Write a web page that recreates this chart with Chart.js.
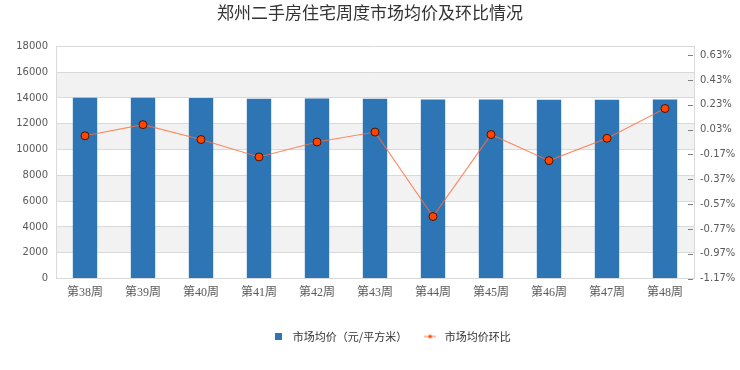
<!DOCTYPE html>
<html lang="zh-CN">
<head>
  <meta charset="UTF-8" />
  <title>郑州二手房住宅周度市场均价及环比情况</title>
  <script src="https://cdn.jsdelivr.net/npm/chart.js@4.4.0/dist/chart.umd.min.js"></script>
  <style>
    html, body { margin: 0; padding: 0; background: #fff; }
    canvas { display: block; }
  </style>
</head>
<body>
  <canvas id="weekChart" width="740" height="370"></canvas>

  <script>
    // 周次
    const weeks = ['第38周', '第39周', '第40周', '第41周', '第42周', '第43周',
                   '第44周', '第45周', '第46周', '第47周', '第48周'];
    // 市场均价（元/平方米）
    const avgPrice = [14010, 14020, 14000, 13950, 13960, 13940,
                      13880, 13880, 13860, 13870, 13880];
    // 市场均价环比（%）
    const momChange = [-0.02, 0.07, -0.05, -0.19, -0.07, 0.01,
                       -0.67, -0.01, -0.22, -0.04, 0.20];
    // 右轴刻度（%）
    const rightTicks = [-1.17, -0.97, -0.77, -0.57, -0.37, -0.17, 0.03, 0.23, 0.43, 0.63];

    const textColor = '#595959';
    const gridColor = '#d9d9d9';

    // 图例小图标
    const squareIcon = document.createElement('canvas');
    squareIcon.width = 7; squareIcon.height = 7;
    squareIcon.getContext('2d').fillStyle = '#2e75b6';
    squareIcon.getContext('2d').fillRect(0, 0, 7, 7);

    const lineIcon = document.createElement('canvas');
    lineIcon.width = 12; lineIcon.height = 6;
    (function () {
      const c = lineIcon.getContext('2d');
      c.strokeStyle = '#ff7a50';
      c.lineWidth = 1;
      c.beginPath(); c.moveTo(0, 3); c.lineTo(12, 3); c.stroke();
      c.fillStyle = '#ff4500';
      c.beginPath(); c.arc(6, 3, 1.8, 0, Math.PI * 2); c.fill();
    })();

    // 灰白相间的背景条
    const bandPlugin = {
      id: 'bands',
      beforeDraw(chart) {
        const { ctx, chartArea } = chart;
        const y = chart.scales.y;
        ctx.save();
        ctx.fillStyle = '#f2f2f2';
        y.ticks.forEach((t, i) => {
          if (i % 2 === 1 && i < y.ticks.length - 1) {
            const top = y.getPixelForValue(y.ticks[i + 1].value);
            const bottom = y.getPixelForValue(t.value);
            ctx.fillRect(chartArea.left, top, chartArea.right - chartArea.left, bottom - top);
          }
        });
        ctx.restore();
      }
    };

    // 右轴内侧的小刻度
    const innerTicks = {
      id: 'innerTicks',
      afterDatasetsDraw(chart) {
        const { ctx, chartArea } = chart;
        const s = chart.scales.y1;
        ctx.save();
        ctx.strokeStyle = '#7f7f7f';
        ctx.lineWidth = 1;
        s.ticks.forEach(t => {
          const py = Math.round(s.getPixelForValue(t.value)) + 0.5;
          const len = t.major ? 5 : 3;
          ctx.beginPath();
          ctx.moveTo(chartArea.right - 1 - len, py);
          ctx.lineTo(chartArea.right - 1, py);
          ctx.stroke();
        });
        ctx.restore();
      }
    };

    // 图例整体稍偏右
    const legendShift = {
      id: 'legendShift',
      afterLayout(chart) {
        chart.legend.left += 20;
        chart.legend.right += 20;
      }
    };

    Chart.defaults.font.family = '"DejaVu Sans", "Noto Sans CJK SC", sans-serif';
    Chart.defaults.color = textColor;

    new Chart(document.getElementById('weekChart'), {
      data: {
        labels: weeks,
        datasets: [
          {
            type: 'line',
            label: '市场均价环比',
            data: momChange,
            yAxisID: 'y1',
            order: 0,
            borderColor: 'rgba(255, 110, 60, 0.8)',
            borderWidth: 1.1,
            pointRadius: 4,
            pointBackgroundColor: '#ff4500',
            pointBorderColor: '#4a1400',
            pointBorderWidth: 1,
            tension: 0
          },
          {
            type: 'bar',
            label: '市场均价（元/平方米）',
            data: avgPrice,
            yAxisID: 'y',
            order: 1,
            backgroundColor: '#2e75b6',
            borderWidth: 0,
            barPercentage: 0.42,
            categoryPercentage: 1
          }
        ]
      },
      options: {
        responsive: false,
        animation: false,
        layout: { padding: { left: 0, right: 0, top: 0, bottom: 18 } },
        scales: {
          x: {
            grid: { display: false, drawTicks: false },
            border: { color: gridColor },
            ticks: {
              color: textColor,
              padding: 7,
              maxRotation: 0,
              font: { family: '"Liberation Serif", "Noto Sans CJK SC", serif', size: 12 }
            },
            afterFit(scale) { scale.height = 38.4; }
          },
          y: {
            position: 'left',
            min: 0,
            max: 18000,
            grid: { color: gridColor, drawTicks: false },
            border: { color: gridColor },
            ticks: {
              stepSize: 2000, padding: 8, font: { size: 10 }, color: textColor,
              callback: v => String(v)
            },
            afterFit(scale) { scale.width = 56; }
          },
          y1: {
            position: 'right',
            min: -1.17,
            max: 0.70,
            grid: { display: false, drawTicks: false },
            border: { display: true, color: gridColor },
            afterBuildTicks(scale) {
              const list = [];
              rightTicks.forEach((v, i) => {
                list.push({ value: v, major: true });
                if (i < rightTicks.length - 1) {
                  list.push({ value: Math.round((v + 0.1) * 100) / 100, major: false });
                }
              });
              scale.ticks = list;
            },
            ticks: {
              padding: 6,
              font: { size: 10 },
              color: textColor,
              callback(value) {
                return rightTicks.includes(value) ? value.toFixed(2) + '%' : '';
              }
            },
            afterFit(scale) { scale.width = 46; }
          }
        },
        plugins: {
          title: {
            display: true,
            text: '郑州二手房住宅周度市场均价及环比情况',
            color: '#333333',
            font: { family: '"Noto Sans CJK SC", sans-serif', size: 17, weight: 'normal', lineHeight: 1.2 },
            padding: { top: 2, bottom: 24 }
          },
          legend: {
            position: 'bottom',
            labels: {
              usePointStyle: true,
              pointStyleWidth: 18,
              boxHeight: 7,
              padding: 14,
              color: '#333333',
              font: { family: '"Noto Sans CJK SC", sans-serif', size: 11 },
              generateLabels() {
                return [
                  { text: '市场均价（元/平方米）', fillStyle: '#2e75b6', strokeStyle: '#2e75b6',
                    lineWidth: 0, pointStyle: squareIcon, datasetIndex: 1, fontColor: '#333333' },
                  { text: '市场均价环比', fillStyle: '#ff4500', strokeStyle: '#ff4500',
                    lineWidth: 0, pointStyle: lineIcon, datasetIndex: 0, fontColor: '#333333' }
                ];
              }
            }
          },
          tooltip: { enabled: false }
        }
      },
      plugins: [bandPlugin, innerTicks, legendShift]
    });
  </script>
</body>
</html>
